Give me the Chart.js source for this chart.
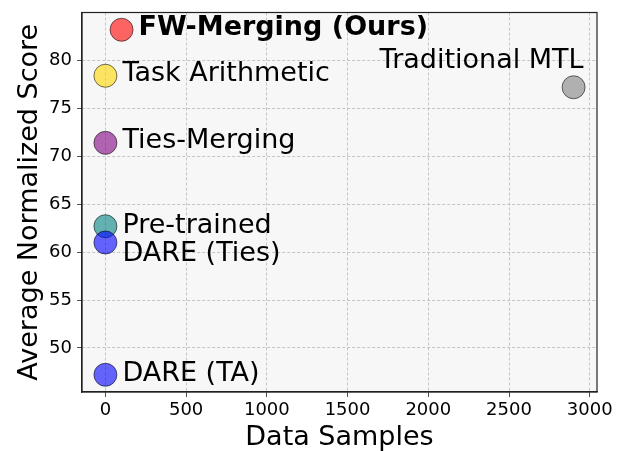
<!DOCTYPE html>
<html>
<head>
<meta charset="utf-8">
<script src="https://cdn.jsdelivr.net/npm/chart.js@4/dist/chart.umd.min.js"></script>
<style>
  html, body { margin: 0; padding: 0; background: #fff; }
  #wrap { width: 626px; height: 451px; }
</style>
</head>
<body>
<div id="wrap"><canvas id="chart" width="626" height="451"></canvas></div>
<script>
const methods = ['FW-Merging (Ours)', 'Task Arithmetic', 'Ties-Merging', 'Pre-trained', 'DARE (Ties)', 'DARE (TA)', 'Traditional MTL'];
const dataSamples = [100, 0, 0, 0, 0, 0, 2900];
const avgScores = [83.2, 78.4, 71.4, 62.7, 61.0, 47.2, 77.2];
const xTicks = [0, 500, 1000, 1500, 2000, 2500, 3000];
const yTicks = [50, 55, 60, 65, 70, 75, 80];

const colors = ['rgba(255,0,0,0.6)', 'rgba(255,215,0,0.6)', 'rgba(128,0,128,0.6)', 'rgba(0,128,128,0.6)',
  'rgba(0,0,255,0.6)', 'rgba(0,0,255,0.6)', 'rgba(128,128,128,0.6)'];
// label placement relative to its point: dx, dy, align, bold
const labelStyle = [
  { dx: 17, dy: 5, align: 'left', bold: true },
  { dx: 17, dy: 5, align: 'left' },
  { dx: 17, dy: 5, align: 'left' },
  { dx: 17, dy: 7, align: 'left' },
  { dx: 17, dy: 18, align: 'left' },
  { dx: 17, dy: 6, align: 'left' },
  { dx: 10, dy: -19, align: 'right' }
];

const FONT = "'DejaVu Sans', sans-serif";

function pad(arr) {
  const lo = Math.min(...arr), hi = Math.max(...arr), m = (hi - lo) * 0.05;
  return [lo - m, hi + m];
}
const [xMin, xMax] = pad(dataSamples);
const [yMin, yMax] = pad(avgScores);

const plotBg = {
  id: 'plotBg',
  beforeDraw(chart) {
    const { ctx, chartArea: a } = chart;
    ctx.save();
    ctx.fillStyle = '#f7f7f7';
    ctx.fillRect(a.left, a.top, a.right - a.left, a.bottom - a.top);
    ctx.restore();
  },
  afterDraw(chart) {
    const { ctx, chartArea: a } = chart;
    ctx.save();
    ctx.strokeStyle = '#222';
    ctx.lineWidth = 1.2;
    ctx.strokeRect(a.left, a.top, a.right - a.left, a.bottom - a.top);
    ctx.restore();
  }
};

const pointLabels = {
  id: 'pointLabels',
  afterDatasetsDraw(chart) {
    const { ctx } = chart;
    const pts = chart.getDatasetMeta(0).data;
    ctx.save();
    ctx.fillStyle = '#000';
    ctx.textBaseline = 'alphabetic';
    pts.forEach((p, i) => {
      const s = labelStyle[i];
      ctx.font = (s.bold ? 'bold ' : '') + '27px ' + FONT;
      ctx.textAlign = s.align;
      ctx.fillText(methods[i], p.x + s.dx, p.y + s.dy);
    });
    ctx.restore();
  }
};

new Chart(document.getElementById('chart'), {
  type: 'scatter',
  data: {
    datasets: [{
      data: dataSamples.map((x, i) => ({ x, y: avgScores[i] })),
      backgroundColor: colors,
      borderColor: 'rgba(0,0,0,0.55)',
      borderWidth: 1,
      pointRadius: 11.5,
      pointHoverRadius: 11.5,
      clip: false
    }]
  },
  options: {
    responsive: false,
    animation: false,
    layout: { padding: { top: 5, right: 29, left: 0, bottom: 0 } },
    plugins: { legend: { display: false }, tooltip: { enabled: false } },
    scales: {
      x: {
        type: 'linear', min: xMin, max: xMax,
        afterBuildTicks: s => { s.ticks = xTicks.map(v => ({ value: v })); },
        afterFit: s => { s.height = 59; s.paddingLeft = 0; s.paddingRight = 0; },
        ticks: { color: '#000', font: { family: FONT, size: 18 }, padding: 3, maxRotation: 0, callback: v => String(v) },
        grid: { color: '#b8b8b8', lineWidth: 0.8, tickLength: 5, tickColor: '#222' },
        border: { color: '#222', width: 1.2, dash: [3, 2] },
        title: { display: true, text: 'Data Samples', color: '#000', font: { family: FONT, size: 27 }, padding: { top: 0, bottom: -3 } }
      },
      y: {
        type: 'linear', min: yMin, max: yMax,
        afterBuildTicks: s => { s.ticks = yTicks.map(v => ({ value: v })); },
        afterFit: s => { s.width = 82; s.paddingTop = 0; s.paddingBottom = 0; },
        ticks: { color: '#000', font: { family: FONT, size: 18 }, padding: 5, callback: v => String(v) },
        grid: { color: '#b8b8b8', lineWidth: 0.8, tickLength: 5, tickColor: '#222' },
        border: { color: '#222', width: 1.2, dash: [3, 2] },
        title: { display: true, text: 'Average Normalized Score', color: '#000', font: { family: FONT, size: 27 }, padding: { top: 14 } }
      }
    }
  },
  plugins: [plotBg, pointLabels]
});
</script>
</body>
</html>
